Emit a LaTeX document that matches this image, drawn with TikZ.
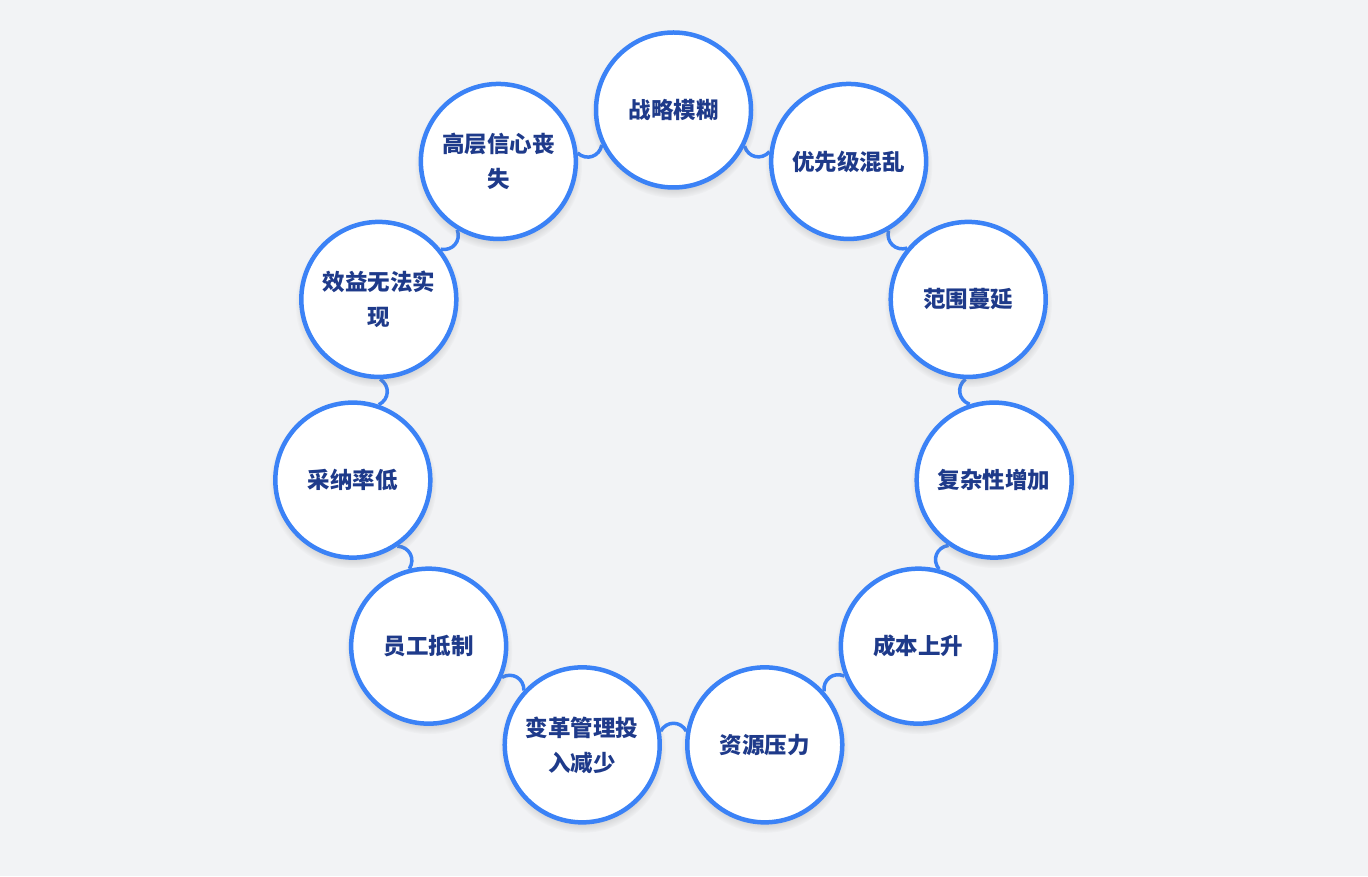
\documentclass[tikz,border=0pt]{standalone}
\usepackage{fontspec}
\newfontfamily\cjk{Noto Sans CJK SC}
\usepackage{tikz}
\usetikzlibrary{shadows,backgrounds}
\definecolor{ringblue}{HTML}{3B82F6}
\definecolor{textnavy}{HTML}{1E3A8A}
\definecolor{pagegray}{HTML}{F2F3F5}

\begin{document}
\begin{tikzpicture}[x=1pt, y=1pt,
    issue/.style={circle, draw=ringblue, line width=4.5pt, fill=white,
        minimum size=155pt, inner sep=0pt, align=center, text=textnavy,
        font=\cjk\bfseries\fontsize{22.5}{35}\selectfont,
        circular drop shadow={shadow scale=1.08, shadow xshift=0pt,
            shadow yshift=-4pt, opacity=0.35}},
    link/.style={ringblue, line width=3.5pt}]
    \useasboundingbox (0,0) rectangle (1368,876);

    % Issue circles around the ring (clockwise from the top)
    \foreach \lbl [count=\i from 0] in {战略模糊, 优先级混乱, 范围蔓延, 复杂性增加,
        成本上升, 资源压力, {变革管理投\\入减少}, 员工抵制, 采纳率低,
        {效益无法实\\现}, {高层信心丧\\失}}
        \node[issue] (c\i) at ({673.5+324*cos(90-\i*360/11)}, {442+324*sin(90-\i*360/11)}) {\lbl};

    % Small arched links in the gaps between neighbours
    \begin{pgfonlayer}{background}
        \fill[pagegray] (0,0) rectangle (1368,876);
        \foreach \i [evaluate=\i as \j using {int(mod(\i+1,11))},
                     evaluate=\i as \a using {mod(720+90-(\i+0.5)*360/11-100,360)},
                     evaluate=\i as \b using {mod(720+90-(\i+0.5)*360/11+100,360)}] in {0,...,10}
            \draw[link] (c\i.\a) to[bend right=60, looseness=1.2] (c\j.\b);
    \end{pgfonlayer}
\end{tikzpicture}
\end{document}
